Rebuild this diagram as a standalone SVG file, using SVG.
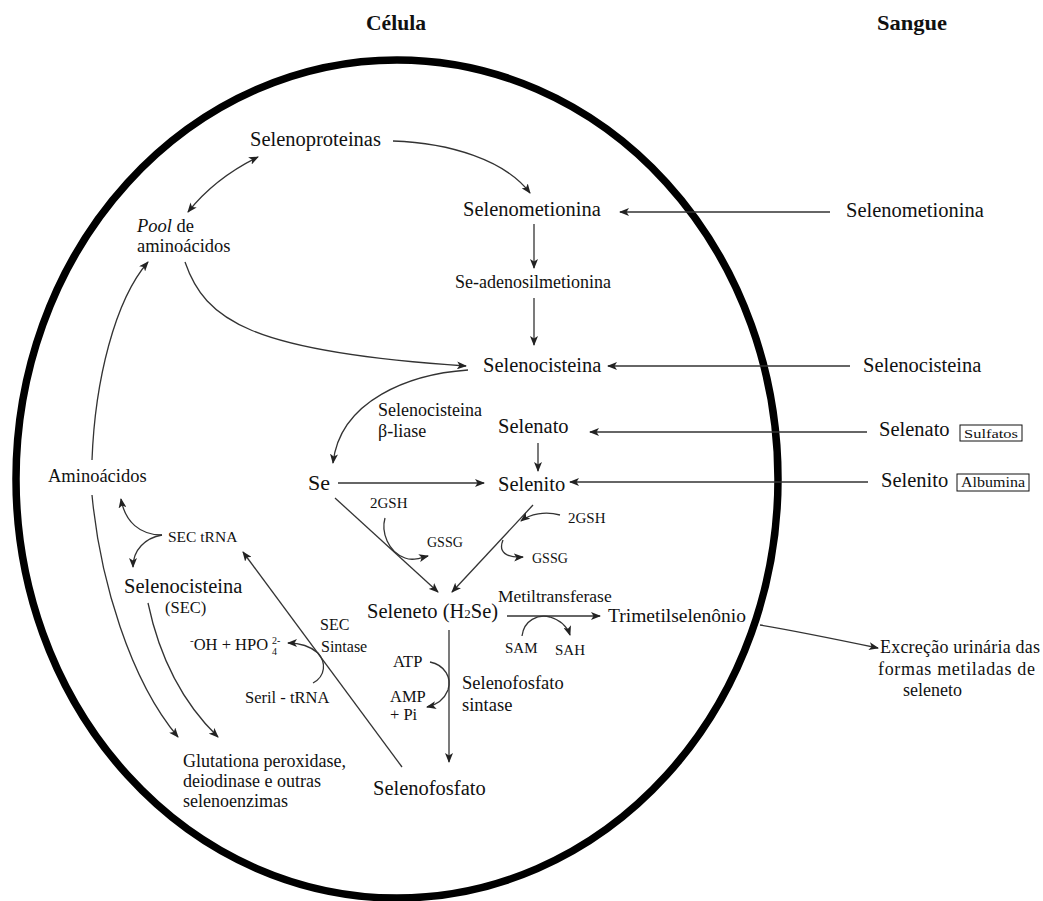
<svg xmlns="http://www.w3.org/2000/svg" width="1043" height="901" viewBox="0 0 1043 901">
<defs>
<marker id="ah" viewBox="0 0 10 8" refX="9" refY="4" markerWidth="10" markerHeight="8" markerUnits="userSpaceOnUse" orient="auto-start-reverse">
<path d="M0,0 L10,4 L0,8 L2.5,4 z" fill="#222"/>
</marker>
</defs>
<style>
text { font-family: "Liberation Serif", "Times New Roman", serif; fill: #111; }
.L { font-size: 20.5px; }
.M { font-size: 18px; }
.S { font-size: 15px; }
.T { font-size: 21px; font-weight: bold; }
.c { fill: none; stroke: #333; stroke-width: 1.3; }
.a { marker-end: url(#ah); }
.box { fill: none; stroke: #111; stroke-width: 1; }
</style>
<rect width="1043" height="901" fill="#fff"/>

<g id="cell">
<ellipse cx="397" cy="479" rx="381" ry="419" fill="none" stroke="#000" stroke-width="7.5"/>
</g>

<g id="titles">
<text class="T" x="366" y="30" textLength="60" lengthAdjust="spacingAndGlyphs">Célula</text>
<text class="T" x="877" y="30" textLength="70" lengthAdjust="spacingAndGlyphs">Sangue</text>
</g>

<g id="connectors">
<path class="c a" d="M393,141 C450,143 505,160 530,193"/>
<path class="c a" d="M258,157 Q215,178 188,212" marker-start="url(#ah)"/>
<path class="c a" d="M92,460 C95,380 115,300 148,262"/>
<path class="c a" d="M185,262 C205,320 250,352 466,366"/>
<path class="c a" d="M534,224 L534,268"/>
<path class="c a" d="M534,298 L534,345"/>
<path class="c a" d="M830,212 L620,212"/>
<path class="c a" d="M850,366 L608,366"/>
<path class="c a" d="M867,432 L590,432"/>
<path class="c a" d="M868,482 L570,482"/>
<path class="c a" d="M538,443 L538,471"/>
<path class="c a" d="M468,370 C410,374 340,400 333,463"/>
<path class="c a" d="M338,483 L484,483"/>
<path class="c a" d="M335,498 L438,592"/>
<path class="c a" d="M533,505 L452,592"/>
<path class="c a" d="M385,518 C381,532 388,552 405,558 C413,561 420,558 428,556"/>
<path class="c a" d="M560,515 C545,511 530,514 521,521"/>
<path class="c a" d="M503,540 C498,552 506,558 523,557"/>
<path class="c a" d="M507,616 L600,616"/>
<path class="c a" d="M522,636 C524,620 538,614 550,617 C560,620 567,626 570,635"/>
<path class="c a" d="M449,630 L449,762"/>
<path class="c a" d="M430,662 C445,665 452,678 448,690 C444,700 436,705 427,707"/>
<path class="c a" d="M402,767 L243,552"/>
<path class="c a" d="M313,683 C326,676 326,662 318,653 C310,646 300,643 288,643"/>
<path class="c a" d="M162,535 C140,535 125,522 121,499"/>
<path class="c a" d="M162,535 C145,538 133,550 133,567"/>
<path class="c a" d="M92,495 C100,580 130,680 178,737"/>
<path class="c a" d="M148,603 C160,660 185,705 218,737"/>
<path class="c a" d="M760,625 C790,630 830,638 878,648"/>
</g>

<g id="selenoproteinas"><text class="L" x="250" y="146">Selenoproteinas</text></g>
<g id="selenometionina"><text class="L" x="463" y="216">Selenometionina</text></g>
<g id="pool"><text x="137" y="232" style="font-size:18.5px"><tspan font-style="italic">Pool</tspan> de</text>
<text x="137" y="252" style="font-size:18.5px">aminoácidos</text></g>
<g id="se-adenosil"><text class="M" x="455" y="288">Se-adenosilmetionina</text></g>
<g id="selenocisteina"><text class="L" x="483" y="372">Selenocisteina</text></g>
<g id="liase"><text class="M" x="378" y="416">Selenocisteina</text><text class="M" x="378" y="437">β-liase</text></g>
<g id="selenato"><text class="L" x="498" y="433">Selenato</text></g>
<g id="se"><text x="308" y="490" style="font-size:22px">Se</text></g>
<g id="selenito"><text class="L" x="498" y="491">Selenito</text></g>
<g id="gsh-left"><text class="S" x="370" y="508">2GSH</text><text x="427" y="547" style="font-size:14px">GSSG</text></g>
<g id="gsh-right"><text class="S" x="568" y="523">2GSH</text><text x="532" y="563" style="font-size:14px">GSSG</text></g>
<g id="seleneto"><text class="L" x="367" y="618">Seleneto (H<tspan style="font-size:13px">2</tspan>Se)</text></g>
<g id="metiltransferase"><text x="498" y="602" style="font-size:17.5px">Metiltransferase</text></g>
<g id="trimetil"><text x="608" y="622" style="font-size:19.5px">Trimetilselenônio</text></g>
<g id="sam"><text class="S" x="505" y="653">SAM</text><text class="S" x="555" y="655">SAH</text></g>
<g id="atp"><text x="393" y="667" style="font-size:16.5px">ATP</text><text x="390" y="702" style="font-size:16.5px">AMP</text><text x="390" y="720" style="font-size:16.5px">+ Pi</text></g>
<g id="sf-sintase"><text x="462" y="689" style="font-size:18.5px">Selenofosfato</text><text x="462" y="711" style="font-size:18.5px">sintase</text></g>
<g id="selenofosfato"><text class="L" x="373" y="795">Selenofosfato</text></g>
<g id="sec-trna"><text x="168" y="542" style="font-size:15.5px">SEC tRNA</text></g>
<g id="aminoacidos"><text x="48" y="482" style="font-size:18.5px">Aminoácidos</text></g>
<g id="sec"><text class="L" x="124" y="593">Selenocisteina</text><text x="165" y="613" style="font-size:16.5px">(SEC)</text></g>
<g id="sec-sintase"><text x="320" y="630" style="font-size:16px">SEC</text><text x="321" y="652" style="font-size:16px">Sintase</text></g>
<g id="hpo"><text x="190" y="650" style="font-size:16.5px"><tspan style="font-size:11px" dy="-6">-</tspan><tspan dy="6">OH + HPO</tspan></text>
<text x="272" y="644" style="font-size:10px">2-</text><text x="272" y="655" style="font-size:10px">4</text></g>
<g id="seril"><text x="245" y="703" style="font-size:16.5px">Seril - tRNA</text></g>
<g id="glutationa"><text class="M" x="183" y="767">Glutationa peroxidase,</text><text class="M" x="183" y="787">deiodinase e outras</text><text class="M" x="183" y="807">selenoenzimas</text></g>
<g id="excrecao"><text class="M" x="880" y="653" textLength="160">Excreção urinária das</text><text class="M" x="878" y="675" textLength="157">formas metiladas de</text><text class="M" x="903" y="696">seleneto</text></g>
<g id="b-selenometionina"><text class="L" x="846" y="217">Selenometionina</text></g>
<g id="b-selenocisteina"><text class="L" x="863" y="372">Selenocisteina</text></g>
<g id="b-selenato"><text class="L" x="879" y="436">Selenato</text><rect class="box" x="960" y="425" width="62" height="16"/><text x="964" y="438" style="font-size:13px" textLength="54" lengthAdjust="spacingAndGlyphs">Sulfatos</text></g>
<g id="b-selenito"><text class="L" x="881" y="487">Selenito</text><rect class="box" x="957" y="474" width="72" height="17"/><text x="961" y="487" style="font-size:14px" textLength="64" lengthAdjust="spacingAndGlyphs">Albumina</text></g>
</svg>
